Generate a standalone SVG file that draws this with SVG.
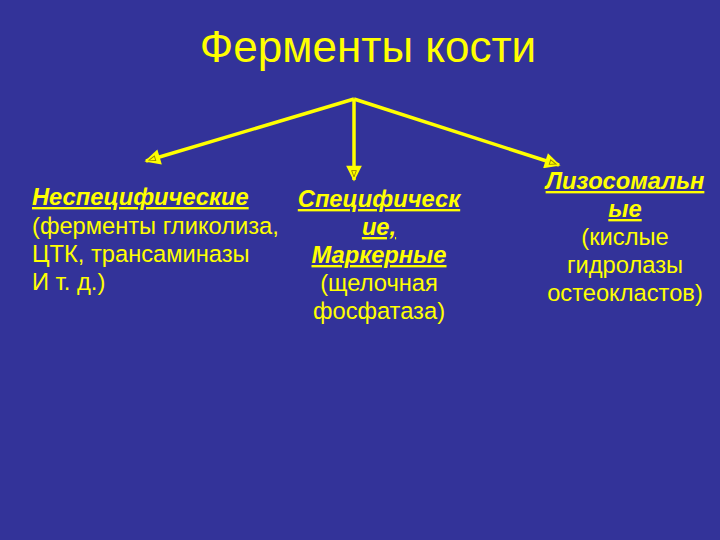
<svg xmlns="http://www.w3.org/2000/svg" width="720" height="540" viewBox="0 0 720 540">
<defs>
<style>
text{font-family:"Liberation Sans",Arial,sans-serif;fill:#FFFF00;}
.t{font-size:44px;}
.b{font-size:23.7px;}
.h{font-weight:bold;font-style:italic;text-decoration:underline;}
.c{text-anchor:middle;}
.ln{stroke:#FFFF00;stroke-width:3.5;fill:none;}
</style>
<marker id="ah" viewBox="0 0 10 10" refX="9" refY="5" markerWidth="5" markerHeight="4.5" orient="auto" markerUnits="strokeWidth">
<path d="M0,0 L10,5 L0,10 Z" fill="#FFFF00"/>
<path d="M3,3.5 L7,5 L3,6.5 Z" fill="none" stroke="#998800" stroke-width="0.6"/>
</marker>
</defs>
<rect width="720" height="540" fill="#333399"/>
<g id="title"><text class="t c" x="368" y="62">Ферменты кости</text></g>
<g id="connectors">
<path class="ln" d="M354,99 L146,161" marker-end="url(#ah)"/>
<path class="ln" d="M354,99 L354,180" marker-end="url(#ah)"/>
<path class="ln" d="M354,99 L559,165" marker-end="url(#ah)"/>
</g>
<g id="n1">
<text class="b h" x="32" y="205">Неспецифические</text>
<text class="b" x="32" y="234">(ферменты гликолиза,</text>
<text class="b" x="32" y="262">ЦТК, трансаминазы</text>
<text class="b" x="32" y="290">И т. д.)</text>
</g>
<g id="n2">
<text class="b h c" x="379" y="207">Специфическ</text>
<text class="b h c" x="379" y="235">ие,</text>
<text class="b h c" x="379" y="263">Маркерные</text>
<text class="b c" x="379" y="291">(щелочная</text>
<text class="b c" x="379" y="319">фосфатаза)</text>
</g>
<g id="n3">
<text class="b h c" x="625" y="189">Лизосомальн</text>
<text class="b h c" x="625" y="217">ые</text>
<text class="b c" x="625" y="245">(кислые</text>
<text class="b c" x="625" y="273">гидролазы</text>
<text class="b c" x="625" y="301">остеокластов)</text>
</g>
</svg>
